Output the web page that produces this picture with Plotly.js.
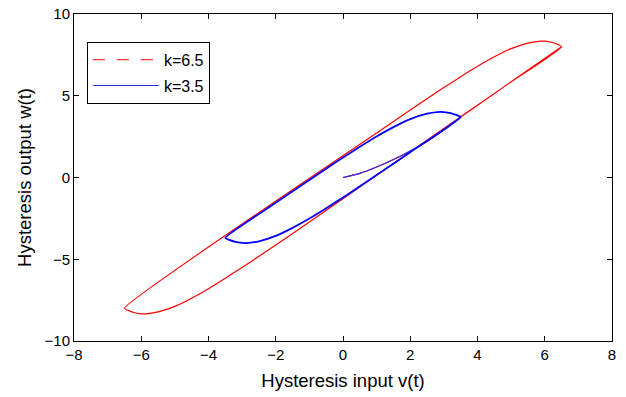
<!DOCTYPE html>
<html>
<head>
<meta charset="utf-8">
<script src="https://cdn.plot.ly/plotly-3.0.1.min.js"></script>
<style>html,body{margin:0;padding:0;background:#fff;}#chart{width:626px;height:397px;}</style>
</head>
<body>
<div id="chart"></div>
<script>
// k = 6.5 : virgin curve, then descending (upper) branch, then ascending (lower) branch
const redV = [0, 0.5, 1.0, 1.5, 2.0, 2.5, 3.0, 3.5, 5.0, 6.5,
  6.4, 6.2, 6.0, 5.8, 5.5, 5.0, 4.5, 4.0, 3.5, 3.0, 2.5, 2.0, 1.0, -6.5,
  -6.4, -6.2, -6.0, -5.8, -5.5, -5.0, -4.5, -4.0, -3.5, -3.0, -2.5, -2.0, -1.0, 1.0, 3.5, 5.0, 6.5];
const redW = [0, 0.25, 0.64, 1.10, 1.62, 2.22, 2.92, 3.70, 5.85, 8.0,
  8.12, 8.27, 8.34, 8.33, 8.22, 7.88, 7.38, 6.80, 6.16, 5.50, 4.82, 4.13, 2.72, -8.0,
  -8.12, -8.27, -8.34, -8.33, -8.22, -7.88, -7.38, -6.80, -6.16, -5.50, -4.82, -4.13, -2.72, 0.14, 3.71, 5.85, 8.0];

// k = 3.5 : virgin curve
const blueVirginV = [0, 0.5, 1.0, 1.5, 2.0, 2.5, 3.0, 3.5];
const blueVirginW = [0, 0.25, 0.64, 1.10, 1.62, 2.22, 2.92, 3.70];
// k = 3.5 : steady loop
const blueV = [3.5,
  3.4, 3.2, 3.0, 2.8, 2.5, 2.0, 1.5, 1.0, 0.5, 0.0, -0.5, -1.0, -2.0, -3.5,
  -3.4, -3.2, -3.0, -2.8, -2.5, -2.0, -1.5, -1.0, -0.5, 0.0, 0.5, 1.0, 2.0, 3.5];
const blueW = [3.70,
  3.80, 3.94, 4.00, 4.00, 3.90, 3.57, 3.08, 2.51, 1.88, 1.22, 0.54, -0.15, -1.55, -3.70,
  -3.80, -3.94, -4.00, -4.00, -3.90, -3.57, -3.08, -2.51, -1.88, -1.22, -0.54, 0.15, 1.55, 3.70];

const seriesNames = ['k=6.5', 'k=3.5'];
const xTicks = [-8, -6, -4, -2, 0, 2, 4, 6, 8];
const yTicks = [-10, -5, 0, 5, 10];

const traces = [
  {x: redV, y: redW, type: 'scatter', mode: 'lines', line: {color: '#ff0000', width: 1.2, shape: 'spline', smoothing: 0.6}, showlegend: false, hoverinfo: 'skip'},
  {x: [null], y: [null], type: 'scatter', mode: 'lines', name: seriesNames[0], legendgroup: 'a', line: {color: '#ff3030', width: 1.2, dash: '12px,12px'}},
  {x: blueVirginV, y: blueVirginW, type: 'scatter', mode: 'lines', name: seriesNames[1], legendgroup: 'b', line: {color: '#3030f0', width: 1.2, shape: 'spline', smoothing: 0.6}},
  {x: blueV, y: blueW, type: 'scatter', mode: 'lines', showlegend: false, line: {color: '#0000ff', width: 1.8, shape: 'spline', smoothing: 0.6}}
];

const axisCommon = {
  showgrid: false, zeroline: false, showline: true, linecolor: '#000', linewidth: 1,
  mirror: 'ticks', ticks: 'inside', ticklen: 5, tickcolor: '#000', tickwidth: 1,
  tickfont: {family: 'Liberation Sans, Arial, sans-serif', size: 15, color: '#000'}
};

const layout = {
  width: 626, height: 397,
  margin: {l: 74, r: 14, t: 14, b: 56},
  paper_bgcolor: '#fff', plot_bgcolor: '#fff',
  font: {family: 'Liberation Sans, Arial, sans-serif', color: '#000'},
  xaxis: Object.assign({}, axisCommon, {
    range: [-8, 8], tickvals: xTicks, ticktext: xTicks.map(t => t < 0 ? '\u2212' + Math.abs(t) : String(t)),
    title: {text: 'Hysteresis input v(t)', font: {size: 18.5, color: '#000'}, standoff: 12}
  }),
  yaxis: Object.assign({}, axisCommon, {
    range: [-10, 10], tickvals: yTicks, ticktext: yTicks.map(t => t < 0 ? '\u2212' + Math.abs(t) : String(t)),
    title: {text: 'Hysteresis output w(t)', font: {size: 18.5, color: '#000'}, standoff: 8}
  }),
  legend: {
    x: 0.024, y: 0.915, xanchor: 'left', yanchor: 'top',
    bgcolor: '#fff', bordercolor: '#000', borderwidth: 1,
    font: {size: 16, color: '#000'}, itemwidth: 66, tracegroupgap: 2,
    entrywidth: 122, entrywidthmode: 'pixels'
  },
  showlegend: true
};

Plotly.newPlot('chart', traces, layout, {displayModeBar: false, staticPlot: true});
</script>
</body>
</html>
